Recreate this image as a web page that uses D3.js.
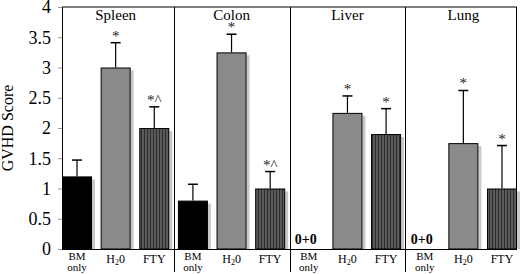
<!DOCTYPE html>
<html>
<head>
<meta charset="UTF-8">
<script src="https://d3js.org/d3.v7.min.js"></script>
<style>
  body { margin: 0; background: #fff; }
</style>
</head>
<body>
<svg id="chart"></svg>
<script>
// data
const organs = ["Spleen", "Colon", "Liver", "Lung"];
const groups = ["BM only", "H2O", "FTY"];
const means = [
  [1.2, 3.0, 2.0],
  [0.8, 3.25, 1.0],
  [0, 2.25, 1.9],
  [0, 1.75, 1.0]
];
const errTops = [
  [1.47, 3.41, 2.35],
  [1.07, 3.55, 1.28],
  [0, 2.53, 2.32],
  [0, 2.62, 1.71]
];
const marks = [
  ["", "*", "*^"],
  ["", "*", "*^"],
  ["0+0", "*", "*"],
  ["0+0", "*", "*"]
];
const yTicks = [0, 0.5, 1, 1.5, 2, 2.5, 3, 3.5, 4];

const width = 520, height = 274;
const margin = {top: 7, right: 3, bottom: 25, left: 62};
const serif = "Liberation Serif, DejaVu Serif, serif";

const svg = d3.select("#chart").attr("width", width).attr("height", height)
  .attr("font-family", serif);

const defs = svg.append("defs");
const pat = defs.append("pattern").attr("id", "stripes")
  .attr("patternUnits", "userSpaceOnUse").attr("width", 3).attr("height", 4);
pat.append("rect").attr("width", 3).attr("height", 4).attr("fill", "#5a5a5a");
pat.append("rect").attr("width", 1).attr("height", 4).attr("fill", "#2e2e2e");

const fills = {"BM only": "#000", "H2O": "#8a8a8a", "FTY": "url(#stripes)"};

let rows = [];
organs.forEach((o, i) => groups.forEach((g, j) => rows.push({
  organ: o, group: g, key: o + "|" + g, value: means[i][j], err: errTops[i][j], mark: marks[i][j]
})));

const x = d3.scaleBand()
  .domain(rows.map(d => d.key))
  .range([margin.left, width - margin.right])
  .paddingInner(0.223)
  .paddingOuter(0);

const y = d3.scaleLinear()
  .domain([0, 4])
  .range([height - margin.bottom, margin.top]);

const step = x.step(), bw = x.bandwidth();
const y0 = y(0);

// frame
svg.append("line").attr("x1", margin.left).attr("x2", width - margin.right)
  .attr("y1", y(4)).attr("y2", y(4)).attr("stroke", "#000");
svg.append("line").attr("x1", width - margin.right - 0.5).attr("x2", width - margin.right - 0.5)
  .attr("y1", y(4)).attr("y2", y0).attr("stroke", "#000");

// panel separators
organs.slice(1).forEach(o => {
  const sx = Math.round(x(o + "|BM only") - (step - bw) / 2) + 0.5;
  svg.append("line").attr("x1", sx).attr("x2", sx)
    .attr("y1", y(4)).attr("y2", height - 2).attr("stroke", "#000");
});

// panel titles
organs.forEach(o => {
  const cx = x(o + "|H2O") + bw / 2;
  svg.append("text").attr("x", cx).attr("y", 20)
    .attr("text-anchor", "middle").attr("font-size", 15).text(o);
});

// shadows
svg.selectAll(".shadow").data(rows.filter(d => d.value > 0)).enter()
  .append("rect")
  .attr("x", d => x(d.key) + bw)
  .attr("y", d => y(d.value) + 3)
  .attr("width", 3)
  .attr("height", d => y0 - y(d.value) - 3)
  .attr("fill", "#c8c8c8");

// bars
svg.selectAll(".bar").data(rows.filter(d => d.value > 0)).enter()
  .append("rect")
  .attr("x", d => x(d.key) + 0.5)
  .attr("y", d => y(d.value) + 0.5)
  .attr("width", bw - 1)
  .attr("height", d => y0 - y(d.value) - 0.5)
  .attr("fill", d => fills[d.group])
  .attr("stroke", "#000");

// error bars (upper only)
const eb = svg.selectAll(".err").data(rows.filter(d => d.value > 0)).enter().append("g");
eb.append("line")
  .attr("x1", d => x(d.key) + bw / 2).attr("x2", d => x(d.key) + bw / 2)
  .attr("y1", d => y(d.value)).attr("y2", d => y(d.err))
  .attr("stroke", "#000").attr("stroke-width", 1.2);
eb.append("line")
  .attr("x1", d => x(d.key) + bw / 2 - 5).attr("x2", d => x(d.key) + bw / 2 + 5)
  .attr("y1", d => y(d.err)).attr("y2", d => y(d.err))
  .attr("stroke", "#000").attr("stroke-width", 1.5);

// significance marks
svg.selectAll(".sig").data(rows.filter(d => d.value > 0 && d.mark)).enter()
  .append("text")
  .attr("x", d => x(d.key) + bw / 2)
  .attr("y", d => y(d.err) - 2)
  .attr("text-anchor", "middle")
  .attr("font-size", 15)
  .attr("fill", "#222")
  .text(d => d.mark);

// zero labels
svg.selectAll(".zero").data(rows.filter(d => d.value === 0)).enter()
  .append("text")
  .attr("x", d => x(d.key) + bw / 2 - 3)
  .attr("y", y0 - 5)
  .attr("text-anchor", "middle")
  .attr("font-size", 14)
  .attr("font-weight", "bold")
  .text(d => d.mark);

// y axis
const yAxis = svg.append("g")
  .attr("transform", `translate(${margin.left},0)`)
  .call(d3.axisLeft(y).tickValues(yTicks).tickFormat(d3.format("")).tickSize(4).tickPadding(7));
yAxis.attr("font-family", serif);
yAxis.select(".domain").attr("stroke", "#000");
yAxis.selectAll(".tick line").attr("stroke", "#999");
yAxis.selectAll("text").attr("font-size", 18).attr("fill", "#000");

// bottom axis line
svg.append("line").attr("x1", margin.left).attr("x2", width - margin.right)
  .attr("y1", y0 + 0.5).attr("y2", y0 + 0.5).attr("stroke", "#000");

// x labels
rows.forEach(d => {
  const cx = x(d.key) + bw / 2;
  const t = svg.append("text").attr("x", cx).attr("y", y0 + 10.5)
    .attr("text-anchor", "middle").attr("font-size", 11);
  if (d.group === "BM only") {
    t.append("tspan").attr("x", cx).attr("dy", 0).text("BM");
    t.append("tspan").attr("x", cx).attr("dy", 11).text("only");
  } else if (d.group === "H2O") {
    t.attr("y", y0 + 14).attr("font-size", 12);
    t.append("tspan").text("H");
    t.append("tspan").attr("font-size", 8).attr("dy", 2).text("2");
    t.append("tspan").attr("dy", -2).text("0");
  } else {
    t.attr("y", y0 + 14).attr("font-size", 12).text(d.group);
  }
});

// y label
svg.append("text")
  .attr("transform", `translate(13,${(y(4) + y0) / 2}) rotate(-90)`)
  .attr("text-anchor", "middle")
  .attr("font-size", 16)
  .text("GVHD Score");
</script>
</body>
</html>
